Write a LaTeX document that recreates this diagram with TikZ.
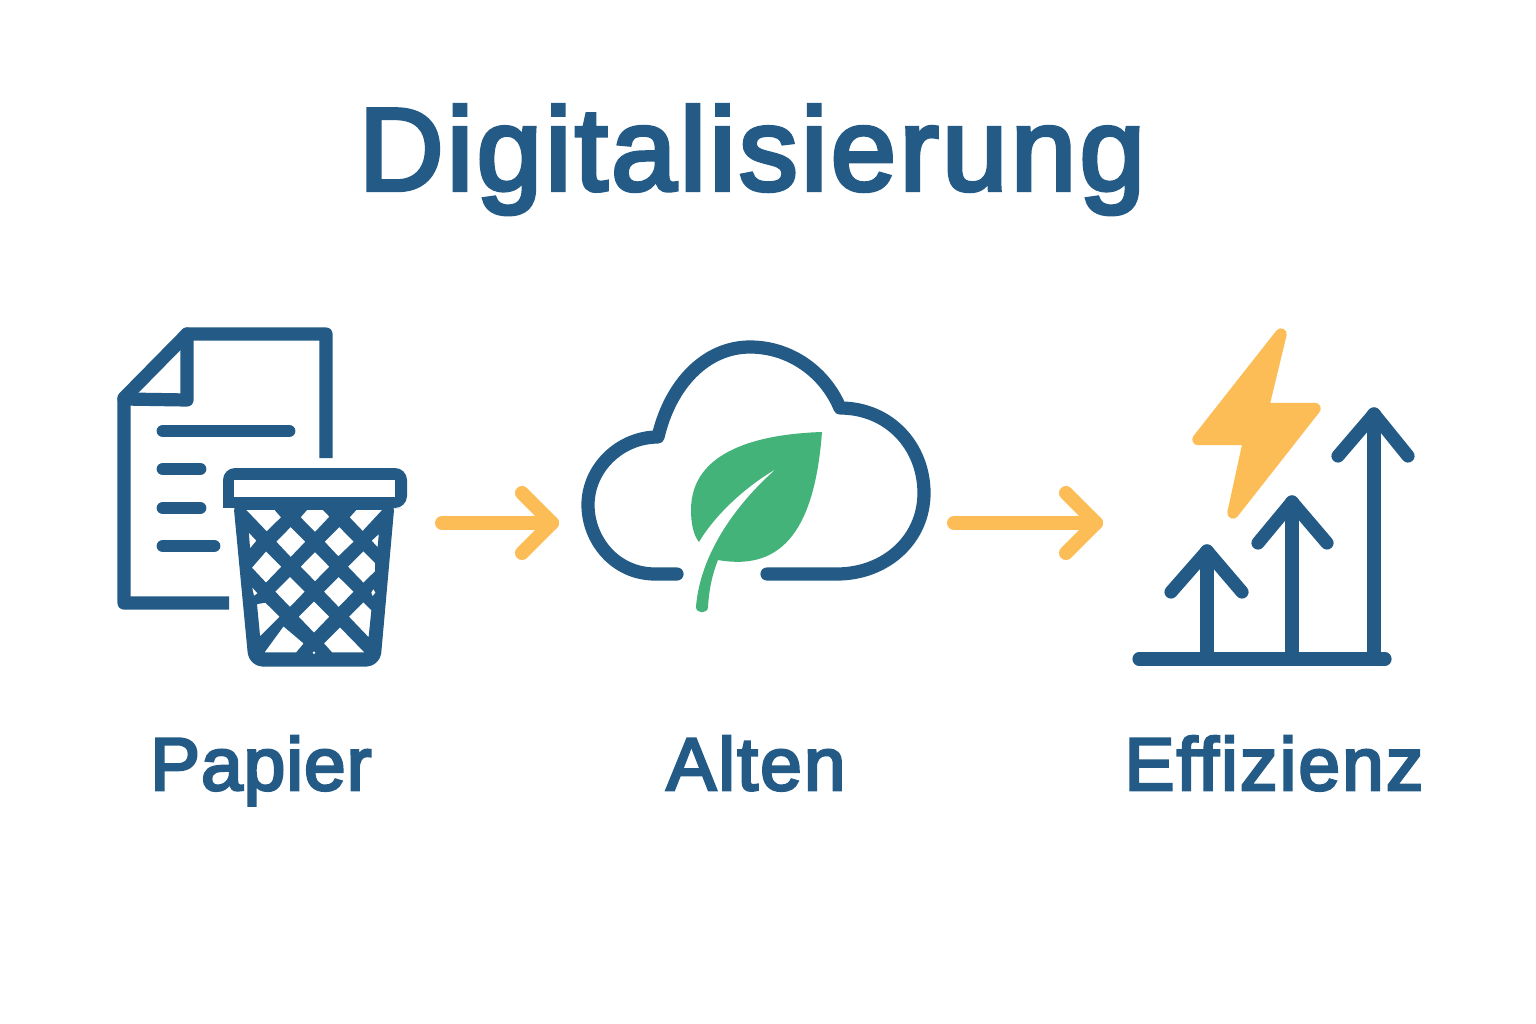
\documentclass[tikz,border=0pt]{standalone}
\usepackage{fontspec}
\setmainfont{Liberation Sans}[FakeBold=3.6,LetterSpace=3]
\newfontfamily\papierfont{Liberation Sans}[FakeBold=3.6,LetterSpace=1.5]
\usetikzlibrary{calc}
\definecolor{navy}{HTML}{235B86}
\definecolor{amber}{HTML}{FCBC56}
\definecolor{leaf}{HTML}{43B37A}
\tikzset{
  icon/.style={draw=navy,line width=9.9pt,line join=round,line cap=round},
  iconbutt/.style={draw=navy,line width=9.9pt,line join=round,line cap=butt},
  textline/.style={draw=navy,line width=9.6pt,line cap=round},
  flow/.style={draw=amber,line width=10.5pt,line cap=round,line join=round},
  hole/.style={fill=white,draw=navy,line width=1.4pt},
  heading/.style={text=navy,inner sep=0pt,anchor=base,font=\fontsize{88pt}{88pt}\selectfont},
  caption/.style={text=navy,inner sep=0pt,anchor=base,font=\fontsize{56pt}{56pt}\selectfont},
}
\begin{document}
\begin{tikzpicture}[x=.75pt,y=-.75pt]
\useasboundingbox (0,0) rectangle (1536,1024);
\fill[white] (0,0) rectangle (1536,1024);
\node[heading] (title) at (752,190) {Digitalisierung};
% document
\draw[iconbutt] (229,603) -- (124,603) -- (124,398) -- (187,334) -- (326,334) -- (326,458);
\draw[icon] (124,399) -- (187,400) -- (187,334);
\draw[textline] (163,431) -- (289,431);
\draw[textline] (163,469) -- (200,469);
\draw[textline] (163,508) -- (200,508);
\draw[textline] (163,546) -- (214,546);
% bin body
\draw[icon,fill=navy,rounded corners=6pt] (240,503) -- (255,660) -- (374,660) -- (388,503) -- cycle;
\begin{scope}[x=.25pt,y=-.25pt,shift={(75pt,-232.5pt)}]
\filldraw[hole] (432,597) -- (525,597) -- (547,622) -- (500,668) -- cycle;
\filldraw[hole] (620,597) -- (670,597) -- (692,620) -- (645,670) -- (598,622) -- cycle;
\filldraw[hole] (768,597) -- (853,597) -- (788,667) -- (745,622) -- cycle;
\filldraw[hole] (443,660) -- (473,692) -- (448,722) -- cycle;
\filldraw[hole] (572,647) -- (620,695) -- (572,745) -- (525,695) -- cycle;
\filldraw[hole] (718,647) -- (765,695) -- (715,743) -- (670,695) -- cycle;
\filldraw[hole] (840,665) -- (835,718) -- (811,692) -- cycle;
\filldraw[hole] (498,720) -- (548,770) -- (498,822) -- (452,773) -- cycle;
\filldraw[hole] (645,722) -- (692,770) -- (645,818) -- (598,770) -- cycle;
\filldraw[hole] (790,720) -- (828,758) -- (828,785) -- (790,822) -- (740,770) -- cycle;
\fill[white] (457,833) -- (472,850) -- (462,857) -- cycle;
\filldraw[hole] (570,797) -- (618,845) -- (570,895) -- (522,845) -- cycle;
\filldraw[hole] (716,797) -- (765,845) -- (716,895) -- (668,845) -- cycle;
\fill[white] (820,838) -- (826,848) -- (818,858) -- (814,848) -- cycle;
\filldraw[hole] (497,875) -- (543,920) -- (478,985) -- (468,880) -- cycle;
\filldraw[hole] (642,870) -- (692,920) -- (642,972) -- (592,920) -- cycle;
\filldraw[hole] (790,873) -- (817,900) -- (808,988) -- (743,920) -- cycle;
\filldraw[hole] (550,945) -- (615,1000) -- (590,1030) -- (488,1030) -- cycle;
\filldraw[hole] (720,948) -- (800,1030) -- (695,1030) -- (668,1000) -- cycle;
\fill[white] (642,1028) circle (4);
\end{scope}
\fill[navy,rounded corners=9pt] (223,508) -- (223,468) -- (407,468) -- (407,508) -- (390,508) -- cycle;
\fill[navy] (223,490) rectangle (240,508);
\fill[white] (234,480) rectangle (395,497);
% flow arrows
\coordinate (a1s) at (442,523); \coordinate (a1e) at (552,523);
\coordinate (a2s) at (954,523); \coordinate (a2e) at (1096,523);
\draw[flow] (a1s) -- (a1e);
\draw[flow] ($(a1e)+(-30,-30)$) -- (a1e) -- ($(a1e)+(-30,30)$);
\draw[flow] (a2s) -- (a2e);
\draw[flow] ($(a2e)+(-30,-30)$) -- (a2e) -- ($(a2e)+(-30,30)$);
% cloud
\draw[icon] (677,574) -- (655,574) .. controls (615,574) and (588,540) .. (588,505)
  .. controls (588,468) and (620,437) .. (658,437)
  .. controls (670,385) and (705,347) .. (750,347)
  .. controls (790,347) and (825,372) .. (840,408)
  .. controls (890,408) and (924,447) .. (924,493)
  .. controls (924,540) and (885,574) .. (837,574) -- (767,574);
% leaf
\fill[leaf] (822,432) .. controls (760,434) and (691,450) .. (691,510)
  .. controls (691,525) and (694,536) .. (699,542)
  .. controls (715,515) and (745,487) .. (776,469)
  .. controls (735,505) and (700,555) .. (696,607)
  .. controls (696,614) and (708,614) .. (708,607)
  .. controls (709,590) and (712,575) .. (718,560)
  .. controls (785,572) and (815,525) .. (822,432) -- cycle;
% bolt
\filldraw[fill=amber,draw=amber,line width=8.6pt,line join=round]
  (1281,334) -- (1263,408.5) -- (1315,408.5) -- (1233,513) -- (1249,439.5) -- (1198,439.5) -- cycle;
% growth arrows
\draw[icon] (1139,659) -- (1385,659);
\draw[icon] (1207,659) -- (1207,551);
\draw[icon] (1171,592) -- (1207,551) -- (1242,592);
\draw[icon] (1292,659) -- (1292,502);
\draw[icon] (1258,543) -- (1292,502) -- (1327,543);
\draw[icon] (1374,659) -- (1374,414);
\draw[icon] (1338,456) -- (1374,414) -- (1408,456);
% captions
\node[caption] (papier) at (261,790) {\papierfont Papier};
\node[caption] (alten) at (756,790) {Alten};
\node[caption] (effizienz) at (1274,790) {Effizienz};
\end{tikzpicture}
\end{document}
